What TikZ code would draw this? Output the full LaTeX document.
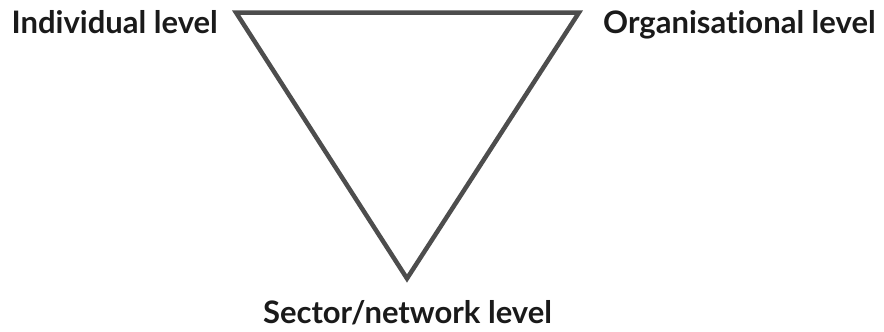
\documentclass[tikz,border=0pt]{standalone}
\usepackage{fontspec}
\setmainfont[Ligatures=NoCommon]{Lato}
\definecolor{linegray}{HTML}{4D4D4D}
\definecolor{txt}{HTML}{1A1A1A}
\begin{document}
\begin{tikzpicture}[x=1pt,y=-1pt,
  lbl/.style={font=\fontsize{31}{33}\selectfont\bfseries, text=txt, inner sep=0pt},
  tri/.style={draw=linegray, line width=4.5pt, miter limit=10}]
\useasboundingbox (0,0) rectangle (884,332);
\coordinate (tl) at (236,12.5);
\coordinate (tr) at (579,12.5);
\coordinate (bt) at (407,278.5);
\draw[tri] (tl) -- (tr) -- (bt) -- cycle;
\node[lbl, anchor=base east] (ind) at (218,33) {Individual level};
\node[lbl, anchor=base west] (org) at (603,33) {Organisational level};
\node[lbl, anchor=base] (sec) at (407.5,323) {Sector/network level};
\end{tikzpicture}
\end{document}
